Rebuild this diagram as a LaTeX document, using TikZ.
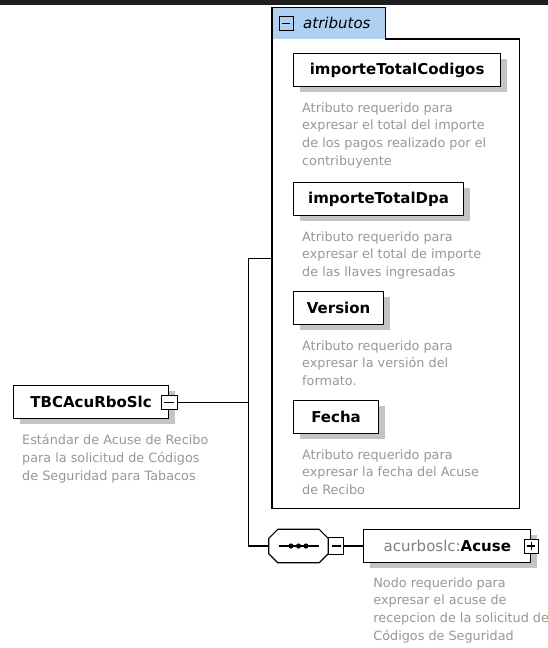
\documentclass[tikz,border=0pt]{standalone}
\usepackage{fontspec}
\setmainfont{DejaVu Sans}
\usetikzlibrary{positioning,shadows}
\definecolor{barink}{HTML}{1E1E1E}
\definecolor{tabblue}{HTML}{B0D0F2}
\definecolor{descgray}{HTML}{9C968E}
\definecolor{nsgray}{HTML}{7E7E84}
\definecolor{shadowgray}{HTML}{C4C4C4}

\begin{document}
\begin{tikzpicture}[x=1pt,y=-1pt,
    elbox/.style={draw,fill=white,line width=1.2pt,minimum height=33pt,inner sep=0pt,
      font=\fontsize{15}{18}\selectfont\bfseries,
      general shadow={fill=shadowgray,shadow xshift=6pt,shadow yshift=-5pt}},
    desc/.style={align=left,inner sep=0pt,text=descgray,
      font=\fontsize{12.8}{17.7}\selectfont},
    expbox/.style={draw,fill=white,line width=1pt,minimum size=14pt,inner sep=0pt},
    minusbox/.style={expbox,path picture={
      \draw[line width=1.2pt] ([xshift=3pt]path picture bounding box.west)
        -- ([xshift=-3pt]path picture bounding box.east);}},
    plusbox/.style={expbox,path picture={
      \draw[line width=1.2pt] ([xshift=3pt]path picture bounding box.west)
        -- ([xshift=-3pt]path picture bounding box.east);
      \draw[line width=1.2pt] ([yshift=-3pt]path picture bounding box.north)
        -- ([yshift=3pt]path picture bounding box.south);}},
    link/.style={line width=1.1pt}]
    \useasboundingbox (0,0) rectangle (548,648);
    \fill[barink] (0,0) rectangle (548,5);

    % root element
    \node[elbox,anchor=north west,minimum width=155pt] (root) at (13,385) {TBCAcuRboSlc};
    \node[minusbox,minimum width=16pt] (rootexp) at (root.east) {};
    \node[desc,below right=15pt and 9pt of root.south west] (rootdesc)
      {Estándar de Acuse de Recibo\\para la solicitud de Códigos\\de Seguridad para Tabacos};

    % attribute group
    \node[anchor=north west,minimum width=247pt,minimum height=469pt,inner sep=0pt]
      (attrs) at (272,39) {};
    \node[anchor=south west,fill=tabblue,minimum width=113pt,minimum height=31pt,
      inner sep=0pt] (attrtab) at (attrs.north west) {};
    \draw[line width=1.2pt] (attrtab.south east) -- (attrs.north east)
      -- (attrs.south east) -- (attrs.south west) -- (attrtab.north west)
      -- (attrtab.north east) -- cycle;
    \node[minusbox,fill=none] (tabexp) at ([xshift=14pt]attrtab.west) {};
    \node[anchor=west,inner sep=0pt,font=\fontsize{15}{18}\selectfont\itshape]
      (tablabel) at ([xshift=31pt]attrtab.west) {atributos};

    \node[elbox,anchor=north west,minimum width=207pt] (codigos) at (293,53) {importeTotalCodigos};
    \node[desc,below right=15pt and 9pt of codigos.south west] (codigosdesc)
      {Atributo requerido para\\expresar el total del importe\\de los pagos realizado por el\\contribuyente};
    \node[elbox,anchor=north west,minimum width=170pt] (dpa) at (293,182) {importeTotalDpa};
    \node[desc,below right=15pt and 9pt of dpa.south west] (dpadesc)
      {Atributo requerido para\\expresar el total de importe\\de las llaves ingresadas};
    \node[elbox,anchor=north west,minimum width=90pt] (version) at (293,291) {Version};
    \node[desc,below right=15pt and 9pt of version.south west] (versiondesc)
      {Atributo requerido para\\expresar la versión del\\formato.};
    \node[elbox,anchor=north west,minimum width=85pt] (fecha) at (293,400) {Fecha};
    \node[desc,below right=15pt and 9pt of fecha.south west] (fechadesc)
      {Atributo requerido para\\expresar la fecha del Acuse\\de Recibo};

    % sequence (octagon) and child element
    \node[minimum width=59pt,minimum height=33pt,inner sep=0pt] (seq) at (298.5,546) {};
    \begin{scope}[xshift=6pt,yshift=-5pt]
      \fill[shadowgray] ([xshift=9pt]seq.north west) -- ([xshift=-9pt]seq.north east)
        -- ([yshift=-9pt]seq.north east) -- ([yshift=9pt]seq.south east)
        -- ([xshift=-9pt]seq.south east) -- ([xshift=9pt]seq.south west)
        -- ([yshift=9pt]seq.south west) -- ([yshift=-9pt]seq.north west) -- cycle;
    \end{scope}
    \draw[line width=1.2pt,fill=white] ([xshift=9pt]seq.north west) -- ([xshift=-9pt]seq.north east)
      -- ([yshift=-9pt]seq.north east) -- ([yshift=9pt]seq.south east)
      -- ([xshift=-9pt]seq.south east) -- ([xshift=9pt]seq.south west)
      -- ([yshift=9pt]seq.south west) -- ([yshift=-9pt]seq.north west) -- cycle;
    \draw[line width=1.2pt] ([xshift=-20pt]seq.center) -- ([xshift=20pt]seq.center);
    \foreach \dx in {-7.5,0,7.5}
      \fill ([xshift=\dx pt]seq.center) circle (2.6pt);
    \node[minusbox,minimum width=15pt,minimum height=17pt,right=0pt of seq] (seqexp) {};
    \node[elbox,minimum width=167pt,right=19pt of seqexp] (acuse)
      {\textcolor{nsgray}{\mdseries acurboslc:}Acuse};
    \node[plusbox] (acuseexp) at (acuse.east) {};
    \node[desc,below right=14pt and 10pt of acuse.south west] (acusedesc)
      {Nodo requerido para\\expresar el acuse de\\recepcion de la solicitud de\\Códigos de Seguridad};

    % connectors
    \path (rootexp.east) -- ++(71,0) coordinate (jn);
    \draw[link] (rootexp.east) -- (jn);
    \draw[link] ([yshift=15.5pt]attrs.west) -| (jn);
    \draw[link] (jn) |- (seq.west);
    \draw[link] (seqexp.east) -- (acuse.west);
  \end{tikzpicture}
\end{document}
